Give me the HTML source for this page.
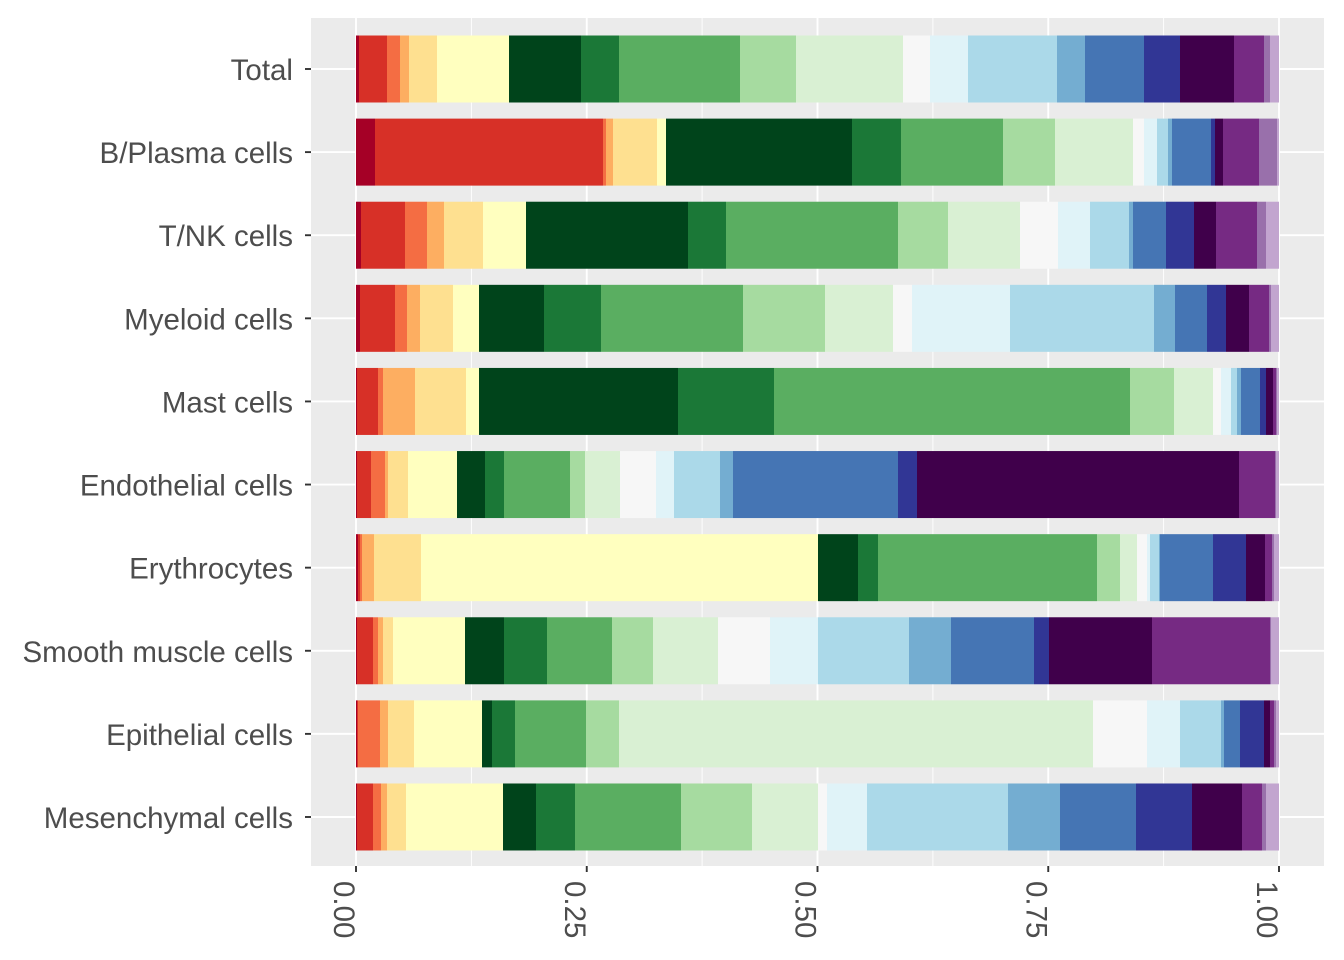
<!DOCTYPE html>
<html><head><meta charset="utf-8"><style>
html,body{margin:0;padding:0;background:#fff;}
svg{display:block;font-family:"Liberation Sans",sans-serif;}
</style></head><body>
<svg id="chart" width="1344" height="960" viewBox="0 0 1344 960">
<rect x="311" y="18" width="1013" height="848" fill="#EBEBEB"/>
<g id="grid"></g>
<g id="bars"></g>
<g id="yaxis"></g>
<g id="xaxis"></g>
</svg>
<script>
const categories = ["Total","B/Plasma cells","T/NK cells","Myeloid cells","Mast cells","Endothelial cells","Erythrocytes","Smooth muscle cells","Epithelial cells","Mesenchymal cells"];
const colors = ["#A50026","#D73027","#F46D43","#FDAE61","#FEE090","#FFFFBF","#00441B","#1B7837","#5AAE61","#A6DBA0","#D9F0D3","#F7F7F7","#E0F3F8","#ABD9E9","#74ADD1","#4575B4","#313695","#40004B","#762A83","#9970AB","#C2A5CF"];
// relative composition per row (normalized to proportions)
const rowTotal = [3,28,13,9,28,72,72,38,121,56,107,27,38,89,28,59,36,54,30,6,9];
const rowBPlasma = [19,228,3,7,44,9,186,49,102,52,78,11,13,11,4,39,4,8,36,18,2];
const rowTNK = [5,44,22,17,39,43,162,38,172,50,72,38,32,39,4,33,28,22,41,9,13];
const rowMyeloid = [4,35,12,13,33,26,65,57,142,82,68,19,98,144,21,32,19,23,20,2,8];
const rowMast = [1,21,5,32,51,13,199,96,356,44,39,8,10,6,4,19,6,7,3,1,2];
const rowEndothelial = [1,14,14,3,20,49,28,19,66,15,35,36,18,46,13,165,19,322,36,1,3];
const rowErythrocytes = [2,2,2,12,47,397,40,20,219,23,17,10,3,9,1,53,33,19,7,2,5];
const rowSmoothMuscle = [1,16,5,5,10,72,39,43,65,41,65,52,48,91,42,83,15,103,118,1,8];
const rowEpithelial = [1,1,22,8,26,68,10,23,71,33,474,54,33,41,3,16,24,6,4,2,3];
const rowMesenchymal = [1,16,8,6,19,97,33,39,106,71,66,9,40,141,52,76,56,50,20,4,13];
const rows = [rowTotal,rowBPlasma,rowTNK,rowMyeloid,rowMast,rowEndothelial,rowErythrocytes,rowSmoothMuscle,rowEpithelial,rowMesenchymal];
const xTicks = [0,0.25,0.5,0.75,1];
const xTickLabels = ["0.00","0.25","0.50","0.75","1.00"];

const NS="http://www.w3.org/2000/svg";
const X0=356,X1=1279,Y0=69,DY=83.11,BH=67;
const xs=v=>X0+v*(X1-X0);
const ys=i=>Y0+i*DY;
function mk(t,a,p){const e=document.createElementNS(NS,t);for(const k in a)e.setAttribute(k,a[k]);p.appendChild(e);return e;}
const grid=document.getElementById('grid'),bars=document.getElementById('bars'),ya=document.getElementById('yaxis'),xa=document.getElementById('xaxis');
for(let k=0;k<xTicks.length-1;k++){const m=(xTicks[k]+xTicks[k+1])/2;
 const l=mk('line',{x1:xs(m),x2:xs(m),y1:18,y2:866,stroke:'#fff','stroke-width':0.9},grid);
 
 }
xTicks.forEach((t,k)=>{
 const l=mk('line',{x1:xs(t),x2:xs(t),y1:18,y2:866,stroke:'#fff','stroke-width':1.9},grid);
 
 
 const tk=mk('line',{x1:xs(t),x2:xs(t),y1:866,y2:872,stroke:'#333','stroke-width':1.9},xa);
 
 
 const tx=mk('text',{x:0,y:0,transform:`translate(${xs(t)-22},881) rotate(90)`,'font-size':29.5,fill:'#4D4D4D'},xa);
 tx.textContent=xTickLabels[k];
 
 
});
categories.forEach((c,i)=>{
 const y=ys(i);
 const g=mk('line',{x1:311,x2:1324,y1:y,y2:y,stroke:'#fff','stroke-width':1.9},grid);
 
 
 const r=rows[i];const sum=r.reduce((a,b)=>a+b,0);let acc=0;
 r.forEach((v,j)=>{
  const p=v/sum;
  const rc=mk('rect',{x:xs(acc),y:y-BH/2,width:Math.max(0,xs(acc+p)-xs(acc)),height:BH,fill:colors[j]},bars);
  
  
  acc+=p;
 });
 const tk=mk('line',{x1:305,x2:311,y1:y,y2:y,stroke:'#333','stroke-width':1.9},ya);
 
 
 const tx=mk('text',{x:293,y:y+11,'text-anchor':'end','font-size':29.5,fill:'#4D4D4D'},ya);
 tx.textContent=c;
 
 
});
</script>
</body></html>
